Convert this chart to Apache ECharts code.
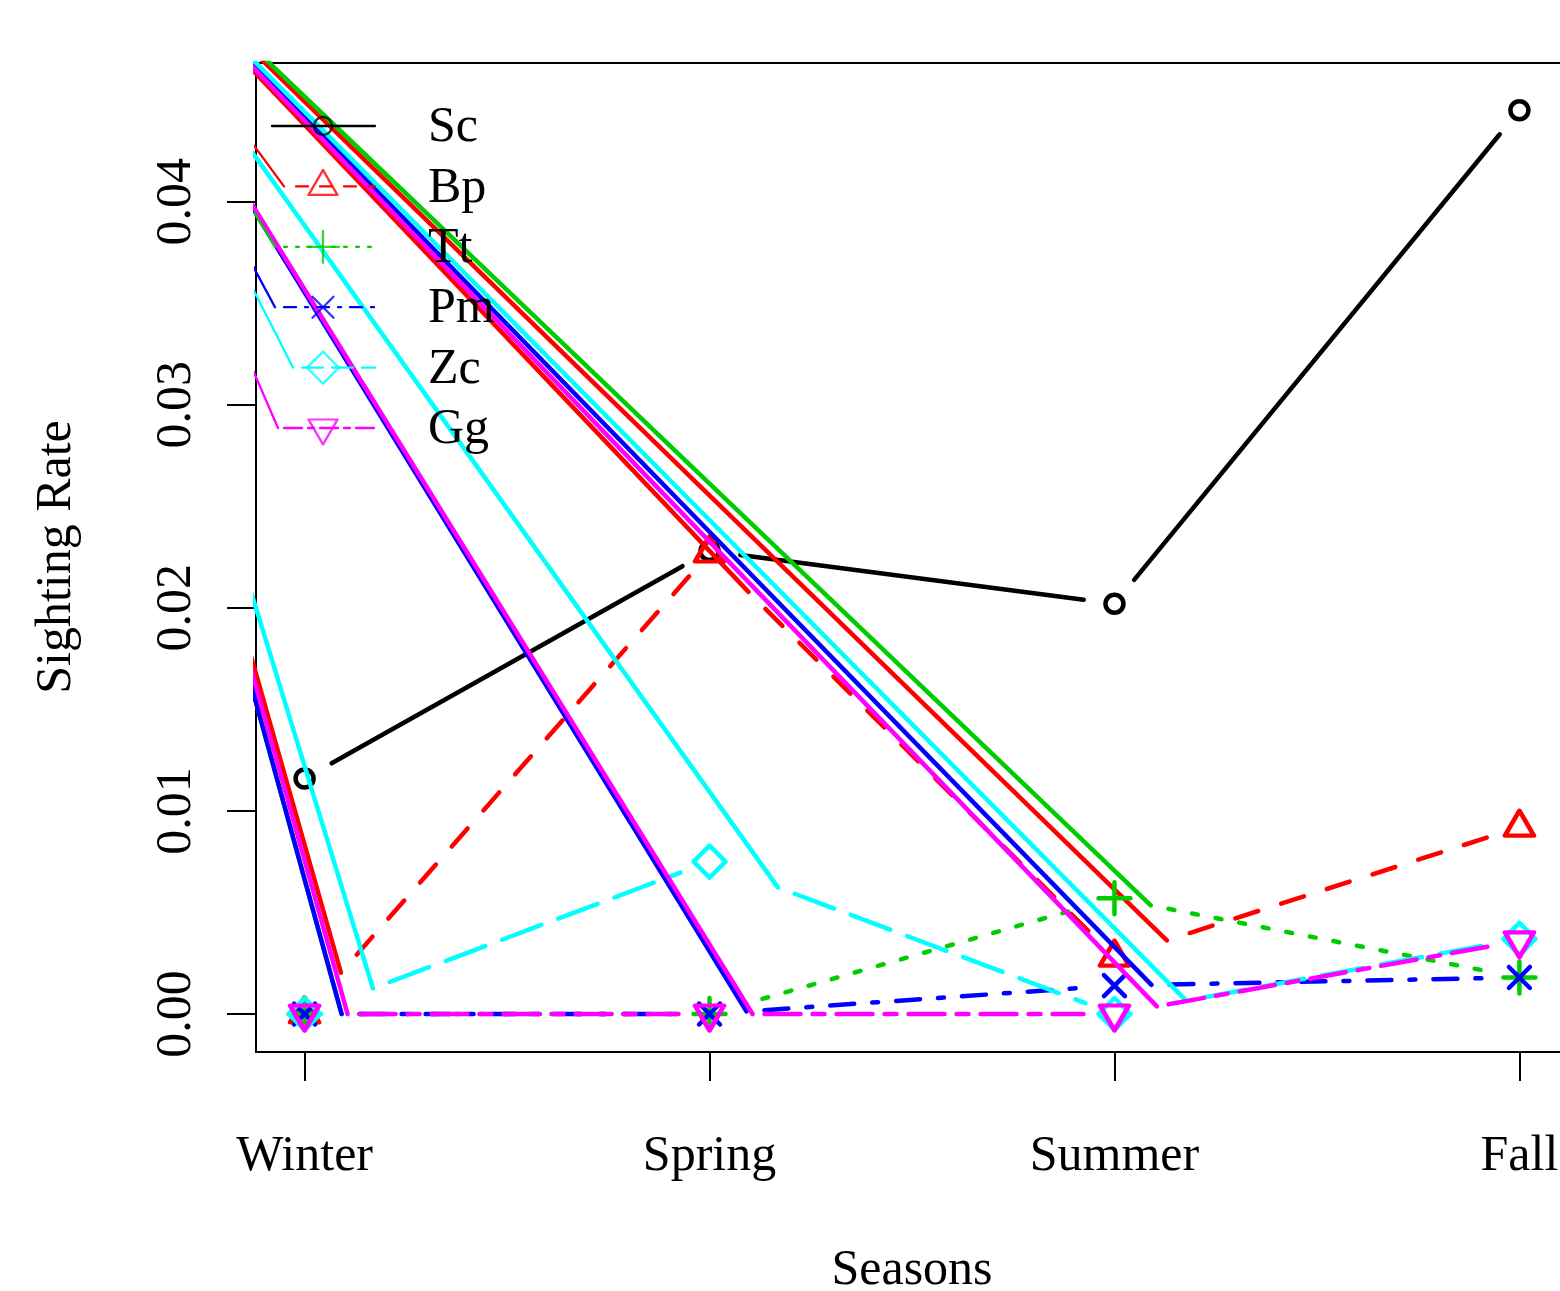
<!DOCTYPE html>
<html><head><meta charset="utf-8">
<script src="https://cdn.jsdelivr.net/npm/echarts@6/dist/echarts.min.js"></script>
<style>html,body{margin:0;padding:0;background:#fff}#c{width:1560px;height:1291px}</style>
</head><body><div id="c"></div>
<script>
// ---------------- data ----------------
const seasons = ['Winter', 'Spring', 'Summer', 'Fall'];
const seasonX = [1, 2, 3, 4];
const speciesNames = ['Sc', 'Bp', 'Tt', 'Pm', 'Zc', 'Gg'];
const Sc = [0.0116, 0.0228, 0.0202, 0.0445];
const Bp = [0.0000, 0.0227, 0.0028, 0.0092];
const Tt = [0.0000, 0.0000, 0.0057, 0.0018];
const Pm = [0.0000, 0.0000, 0.0014, 0.0018];
const Zc = [0.0000, 0.0075, 0.0000, 0.0037];
const Gg = [0.0000, 0.0000, 0.0000, 0.0036];
const yTicks = [0, 0.01, 0.02, 0.03, 0.04];
const yTickLabels = ['0.00', '0.01', '0.02', '0.03', '0.04'];
const xTitle = 'Seasons';
const yTitle = 'Sighting Rate';
// stray pen origin that the renderer joined every first dash to
const artifactOrigin = [0.28, 0.0589];

// ---------------- style ----------------
const FONT = "'Liberation Serif','Times New Roman',serif";
const colors = ['#000000', '#ff0000', '#00cd00', '#0000ff', '#00ffff', '#ff00ff'];
const ltys = [null, [4, 4], [1, 3], [1, 3, 4, 3], [7, 3], [2, 2, 6, 2]];
const symbols = ['circle', 'triangle', 'path://M5,0L5,10M0,5L10,5', 'path://M0,0L10,10M10,0L0,10', 'diamond', 'triangle'];
const symSizes = [18, [29, 25], 32, 21, 32, [29, 25]];
const symOffsets = [[0, 0], [0, -4], [0, 0], [0, 0], [0, 0], [0, 4]];
const symRotate = [0, 0, 0, 0, 0, 180];
const UNIT_MAIN = 6, UNIT_LEG = 3, GAP = 31, LW_MAIN = 4.5, LW_LEG = 2.3;
const LEG_X0 = 272, LEG_X1 = 375, LEG_SYM_X = 323, LEG_TEXT_X = 428, LEG_Y0 = 126, LEG_DY = 60.4;

const allSeries = [Sc, Bp, Tt, Pm, Zc, Gg];

const chart = echarts.init(document.getElementById('c'), null, { renderer: 'canvas' });
const base = {
  animation: false,
  backgroundColor: '#ffffff',
  grid: { left: 256, top: 63, width: 1312, height: 989, outerBoundsMode: 'none', containLabel: false, show: true, borderColor: '#000', borderWidth: 2, backgroundColor: 'transparent' },
  xAxis: {
    type: 'value', min: 0.88, max: 4.12,
    axisLine: { show: false, onZero: false }, splitLine: { show: false },
    axisTick: { show: true, customValues: seasonX, length: 29, lineStyle: { color: '#000', width: 2 } },
    axisLabel: { customValues: seasonX, formatter: v => seasons[Math.round(v) - 1], fontSize: 50, fontFamily: FONT, color: '#000', margin: 80 }
  },
  yAxis: {
    type: 'value', min: -0.00187, max: 0.04683,
    axisLine: { show: false, onZero: false }, splitLine: { show: false },
    axisTick: { show: true, customValues: yTicks, length: 29, lineStyle: { color: '#000', width: 2 } },
    axisLabel: { customValues: yTicks, formatter: v => yTickLabels[yTicks.findIndex(t => Math.abs(t - v) < 1e-9)], rotate: 90, fontSize: 50, fontFamily: FONT, color: '#000', margin: 54 }
  },
  series: []
};
chart.setOption(base);

const toPx = p => chart.convertToPixel({ gridIndex: 0 }, p);
const toData = p => chart.convertFromPixel({ gridIndex: 0 }, p);
const O = toPx(artifactOrigin);

let zc = 10;
function lineSeries(P, E, color, lw, dash, offset, z) {
  return {
    type: 'line', data: [toData(P), toData(E)], symbol: 'none', silent: true, clip: true, z: z,
    emphasis: { disabled: true },
    lineStyle: { color: color, width: lw, type: dash || 'solid', dashOffset: offset || 0, cap: 'round', join: 'round' }
  };
}

const series = [];
allSeries.forEach((vals, i) => {
  const color = colors[i];
  const lty = ltys[i];
  const pts = seasonX.map((x, j) => toPx([x, vals[j]]));
  const zLines = zc++;
  for (let j = 0; j < pts.length - 1; j++) {
    const A = pts[j], B = pts[j + 1];
    const dx = B[0] - A[0], dy = B[1] - A[1];
    const d = Math.hypot(dx, dy);
    if (d < 2 * GAP) continue;
    const u = [dx / d, dy / d];
    const S = [A[0] + u[0] * GAP, A[1] + u[1] * GAP];
    const E = [B[0] - u[0] * GAP, B[1] - u[1] * GAP];
    if (!lty) {
      series.push(lineSeries(S, E, color, LW_MAIN, null, 0, zLines));
    } else {
      const dash = lty.map(v => v * UNIT_MAIN);
      const d1 = dash[0];
      const P = [S[0] + u[0] * d1, S[1] + u[1] * d1];
      series.push(lineSeries(O, P, color, LW_MAIN, null, 0, zLines));
      series.push(lineSeries(P, E, color, LW_MAIN, dash, d1, zLines));
    }
  }
  series.push({
    type: 'scatter', silent: true, z: zc++, clip: false,
    data: seasonX.map((x, j) => [x, vals[j]]),
    symbol: symbols[i], symbolSize: symSizes[i], symbolOffset: symOffsets[i], symbolRotate: symRotate[i],
    itemStyle: { color: 'transparent', borderColor: color, borderWidth: LW_MAIN, borderCap: 'round', borderJoin: 'round', opacity: 1 },
    emphasis: { disabled: true }
  });
});

// legend (drawn in R after the plot, with the same stray first dash)
const graphics = [];
speciesNames.forEach((name, i) => {
  const color = colors[i];
  const lty = ltys[i];
  const y = LEG_Y0 + i * LEG_DY;
  const zL = zc++;
  if (!lty) {
    series.push(lineSeries([LEG_X0, y], [LEG_X1, y], color, LW_LEG, null, 0, zL));
  } else {
    const dash = lty.map(v => v * UNIT_LEG);
    const P = [LEG_X0 + dash[0], y];
    series.push(lineSeries(O, P, color, LW_LEG, null, 0, zL));
    series.push(lineSeries(P, [LEG_X1, y], color, LW_LEG, dash, dash[0], zL));
  }
  series.push({
    type: 'scatter', silent: true, z: zc++, clip: false,
    data: [toData([LEG_SYM_X, y])],
    symbol: symbols[i], symbolSize: symSizes[i], symbolOffset: symOffsets[i], symbolRotate: symRotate[i],
    itemStyle: { color: 'transparent', borderColor: color, borderWidth: LW_LEG, borderCap: 'round', borderJoin: 'round' },
    emphasis: { disabled: true }
  });
  graphics.push({
    type: 'text', x: LEG_TEXT_X, y: y + 2, z: 200, silent: true,
    style: { text: name, font: '50px ' + FONT, fill: '#000', align: 'left', verticalAlign: 'middle', textAlign: 'left', textVerticalAlign: 'middle' }
  });
});

graphics.push({
  type: 'text', x: 912, y: 1271, z: 200, silent: true,
  style: { text: xTitle, font: '50px ' + FONT, fill: '#000', align: 'center', verticalAlign: 'middle', textAlign: 'center', textVerticalAlign: 'middle' }
});
graphics.push({
  type: 'text', x: 57, y: 557, rotation: Math.PI / 2, z: 200, silent: true,
  style: { text: yTitle, font: '50px ' + FONT, fill: '#000', align: 'center', verticalAlign: 'middle', textAlign: 'center', textVerticalAlign: 'middle' }
});

chart.setOption({ series: series, graphic: graphics });
</script>
</body></html>
